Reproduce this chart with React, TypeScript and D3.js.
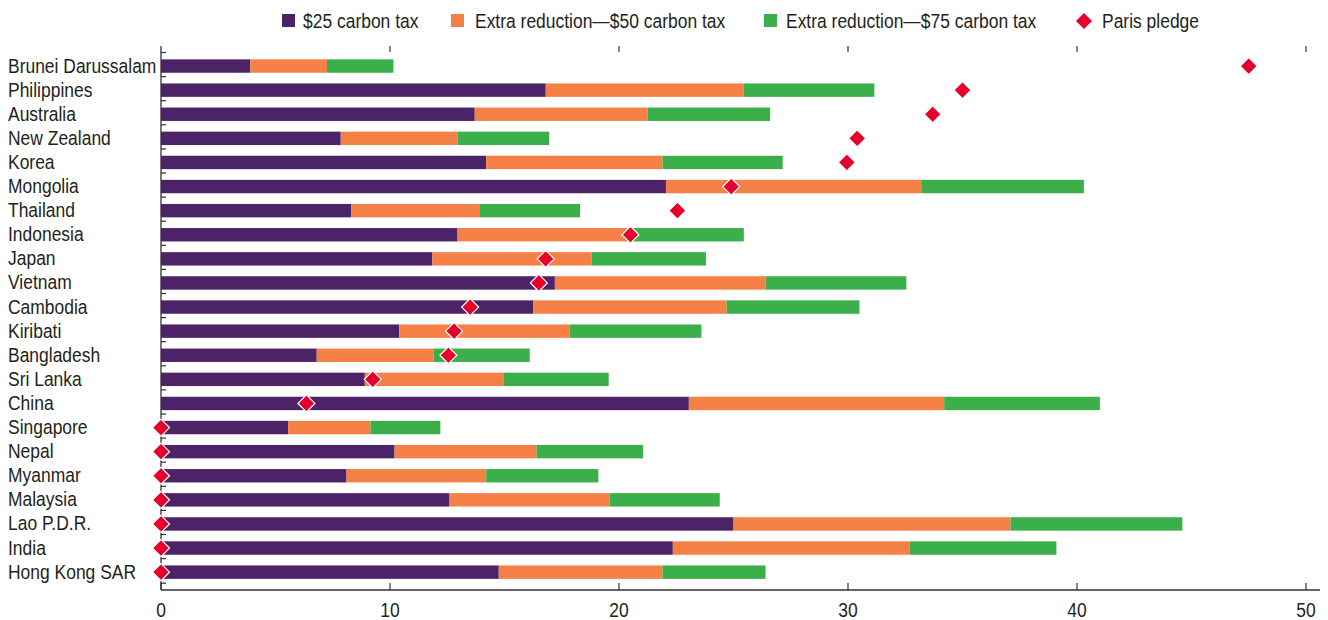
import React from "react";
import * as d3 from "d3";

const countries = [
  "Brunei Darussalam", "Philippines", "Australia", "New Zealand", "Korea", "Mongolia",
  "Thailand", "Indonesia", "Japan", "Vietnam", "Cambodia", "Kiribati", "Bangladesh",
  "Sri Lanka", "China", "Singapore", "Nepal", "Myanmar", "Malaysia", "Lao P.D.R.",
  "India", "Hong Kong SAR",
];
const tax25 = [3.9, 16.8, 13.7, 7.85, 14.2, 22.05, 8.3, 12.95, 11.85, 17.2, 16.25, 10.4, 6.8, 8.9, 23.05, 5.55, 10.2, 8.1, 12.6, 25.0, 22.35, 14.75];
const extra50 = [3.35, 8.65, 7.55, 5.1, 7.7, 11.15, 5.6, 7.65, 6.95, 9.2, 8.45, 7.45, 5.1, 6.05, 11.15, 3.6, 6.2, 6.1, 7.0, 12.1, 10.35, 7.15];
const extra75 = [2.9, 5.7, 5.35, 4.0, 5.25, 7.1, 4.4, 4.85, 5.0, 6.15, 5.8, 5.75, 4.2, 4.6, 6.8, 3.05, 4.65, 4.9, 4.8, 7.5, 6.4, 4.5];
const parisPledge = [47.5, 35.0, 33.7, 30.4, 29.95, 24.9, 22.55, 20.5, 16.8, 16.5, 13.5, 12.8, 12.55, 9.25, 6.35, 0, 0, 0, 0, 0, 0, 0];
const xTicks = [0, 10, 20, 30, 40, 50];
const seriesKeys = ["tax25", "extra50", "extra75"];
const seriesLabels = ["$25 carbon tax", "Extra reduction\u2014$50 carbon tax", "Extra reduction\u2014$75 carbon tax"];
const seriesColors = ["#4B2366", "#F58045", "#3BAF4A"];
const pledgeLabel = "Paris pledge";
const pledgeColor = "#E4002B";

const FONT = "'Liberation Sans', Arial, sans-serif";
const TEXT = "#231F20";
const FS = 19.5;
const SX = 0.895;

function NText({ x, y, anchor = "start", children }: { x: number; y: number; anchor?: string; children: any }) {
  return (
    <text transform={`translate(${x},${y}) scale(${SX},1)`} fontSize={FS} fill={TEXT} textAnchor={anchor}>
      {children}
    </text>
  );
}

export default function App() {
  const width = 1328;
  const height = 620;
  const x = d3.scaleLinear().domain([0, 50]).range([161, 1306]);
  const y = d3.scaleBand<string>().domain(countries).range([54, 54 + 22 * 24.1]).padding(0);
  const step = y.step();
  const barH = 13.4;

  const rows = countries.map((c, i) => ({ country: c, tax25: tax25[i], extra50: extra50[i], extra75: extra75[i] }));
  const stacked = d3.stack<any>().keys(seriesKeys)(rows);

  const diamond = (cx: number, cy: number, r: number) =>
    `M${cx},${cy - r}L${cx + r},${cy}L${cx},${cy + r}L${cx - r},${cy}Z`;

  const legendX = [282, 451, 764];
  const legendTextX = [303, 475, 786];

  return (
    <svg width={width} height={height} style={{ display: "block", position: "absolute", left: 0, top: 0 }} fontFamily={FONT}>
      <rect width={width} height={height} fill="#fff" />
      {/* legend */}
      {seriesLabels.map((lab, i) => (
        <g key={lab}>
          <rect x={legendX[i]} y={14} width={13} height={13} fill={seriesColors[i]} />
          <NText x={legendTextX[i]} y={28}>{lab}</NText>
        </g>
      ))}
      <path d={diamond(1084, 21, 8)} fill={pledgeColor} />
      <NText x={1102} y={28}>{pledgeLabel}</NText>

      {/* bars */}
      {stacked.map((s, si) => (
        <g key={s.key} fill={seriesColors[si]}>
          {s.map((d: any) => (
            <rect
              key={d.data.country}
              x={x(d[0])}
              y={(y(d.data.country) as number) + (step - barH) / 2}
              width={x(d[1]) - x(d[0])}
              height={barH}
            />
          ))}
        </g>
      ))}

      {/* y axis */}
      <line x1={161} x2={161} y1={46} y2={590} stroke="#333" strokeWidth={1.3} />
      {countries.map((c) => (
        <line key={"t" + c} x1={161} x2={166} y1={(y(c) as number) - 1.5} y2={(y(c) as number) - 1.5} stroke="#333" strokeWidth={1.2} />
      ))}
      <line x1={161} x2={166} y1={y.range()[1] - 1} y2={y.range()[1] - 1} stroke="#333" strokeWidth={1.2} />
      {countries.map((c) => (
        <NText key={"l" + c} x={8} y={(y(c) as number) + step / 2 + 6.5}>{c}</NText>
      ))}

      {/* top ticks */}
      {xTicks.filter((t) => t > 0).map((t) => (
        <line key={"tt" + t} x1={x(t)} x2={x(t)} y1={46} y2={52} stroke="#333" strokeWidth={1.2} />
      ))}

      {/* bottom axis */}
      <line x1={161} x2={1320} y1={590} y2={590} stroke="#333" strokeWidth={1.3} />
      {xTicks.map((t) => (
        <g key={"bt" + t}>
          <line x1={x(t)} x2={x(t)} y1={583} y2={590} stroke="#333" strokeWidth={1.2} />
          <NText x={x(t)} y={617} anchor="middle">{t}</NText>
        </g>
      ))}

      {/* Paris pledge */}
      {countries.map((c, i) => (
        <path
          key={"p" + c}
          d={diamond(x(parisPledge[i]), (y(c) as number) + step / 2, 8.5)}
          fill={pledgeColor}
          stroke="#fff"
          strokeWidth={1.2}
        />
      ))}
    </svg>
  );
}
